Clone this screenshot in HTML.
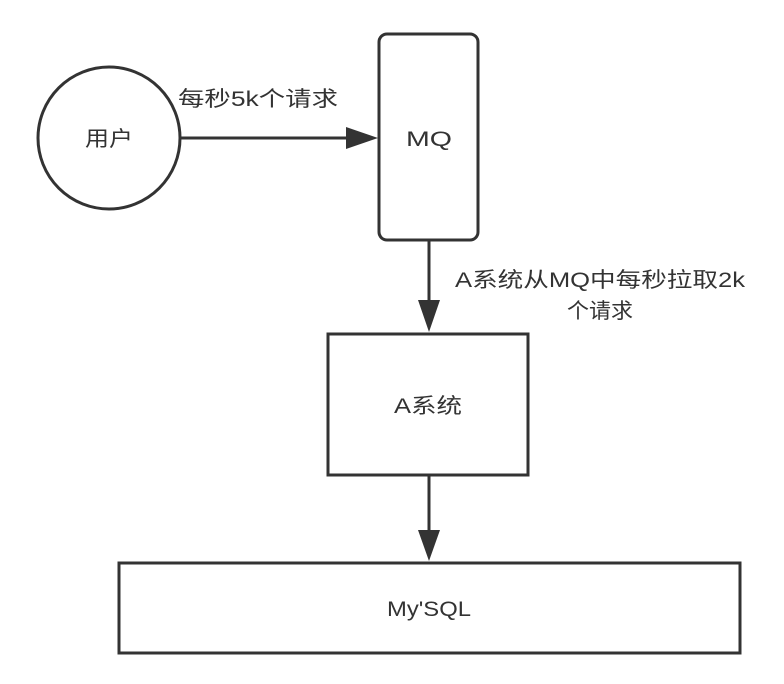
<!DOCTYPE html>
<html><head><meta charset="utf-8"><style>
html,body{margin:0;padding:0;background:#fff;}
svg{display:block;}
text{font-family:"Liberation Sans","Noto Sans CJK SC",sans-serif;fill:#333;}
</style></head><body>
<svg width="784" height="684" viewBox="0 0 784 684" xmlns="http://www.w3.org/2000/svg">
<g stroke="#333" stroke-width="3" fill="#fff">
<circle cx="109" cy="138" r="71"/>
<rect x="379" y="34" width="99" height="206" rx="8"/>
<rect x="328" y="334" width="200" height="141"/>
<rect x="119" y="563" width="621" height="90"/>
<line x1="181" y1="138" x2="350" y2="138"/>
<line x1="429" y1="241" x2="429" y2="305"/>
<line x1="429" y1="476" x2="429" y2="534"/>
</g>
<g fill="#333">
<polygon points="346,127 378,138 346,149"/>
<polygon points="418,300 429,332 440,300"/>
<polygon points="418,530 429,561 440,530"/>
</g>
<g font-size="21" text-anchor="middle">
<text x="109" y="146" textLength="48" lengthAdjust="spacingAndGlyphs">用户</text>
<text x="429" y="146" textLength="46" lengthAdjust="spacingAndGlyphs">MQ</text>
<text x="428" y="413" textLength="68" lengthAdjust="spacingAndGlyphs">A系统</text>
<text x="429" y="616" textLength="84" lengthAdjust="spacingAndGlyphs">My'SQL</text>
<text x="258" y="106" textLength="160" lengthAdjust="spacingAndGlyphs">每秒5k个请求</text>
<text x="600" y="287" textLength="290" lengthAdjust="spacingAndGlyphs">A系统从MQ中每秒拉取2k</text>
<text x="600" y="318" textLength="66" lengthAdjust="spacingAndGlyphs">个请求</text>
</g>
</svg>
</body></html>
